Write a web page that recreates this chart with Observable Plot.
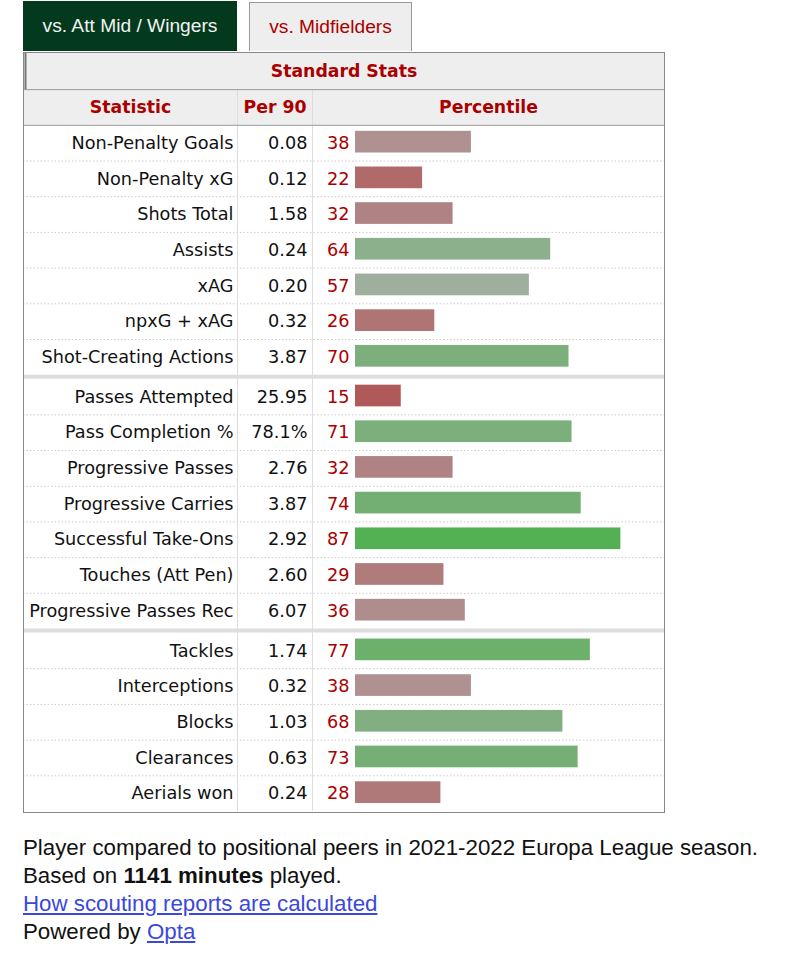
<!DOCTYPE html>
<html>
<head>
<meta charset="utf-8">
<script src="https://cdn.jsdelivr.net/npm/d3@7"></script>
<script src="https://cdn.jsdelivr.net/npm/@observablehq/plot@0.6"></script>
<style>
  html, body { margin: 0; padding: 0; background: #fff; }
  body { width: 806px; position: relative; font-family: "Liberation Sans", Arial, sans-serif; }
  .tabs { position: relative; height: 51px; }
  .tab { position: absolute; box-sizing: border-box; display: flex; align-items: center; justify-content: center; font-size: 19.2px; }
  .tab.active { left: 23px; top: 1px; width: 214px; height: 50px; background: #033a1e; color: #f2f2f2; }
  .tab.other { left: 249px; top: 2px; width: 163px; height: 49px; background: #eeeeee; color: #a00; border: 1px solid #999; border-bottom: none; }
  #chart svg { display: block; }
  .footer { margin: 21px 0 0 23px; font-size: 22.3px; line-height: 28px; color: #111; }
  .footer a { color: #3a48dc; text-decoration: underline; }
</style>
</head>
<body>
<div class="tabs">
  <div class="tab active">vs. Att Mid / Wingers</div>
  <div class="tab other">vs. Midfielders</div>
</div>
<div id="chart"></div>
<div class="footer">
  <div>Player compared to positional peers in 2021-2022 Europa League season.</div>
  <div>Based on <b>1141 minutes</b> played.</div>
  <div><a href="#">How scouting reports are calculated</a></div>
  <div>Powered by <a href="#">Opta</a></div>
</div>
<script>
const caption = "Standard Stats";
const headers = ["Statistic", "Per 90", "Percentile"];
const stats = ["Non-Penalty Goals", "Non-Penalty xG", "Shots Total", "Assists", "xAG", "npxG + xAG", "Shot-Creating Actions",
  "Passes Attempted", "Pass Completion %", "Progressive Passes", "Progressive Carries", "Successful Take-Ons", "Touches (Att Pen)", "Progressive Passes Rec",
  "Tackles", "Interceptions", "Blocks", "Clearances", "Aerials won"];
const per90 = ["0.08", "0.12", "1.58", "0.24", "0.20", "0.32", "3.87",
  "25.95", "78.1%", "2.76", "3.87", "2.92", "2.60", "6.07",
  "1.74", "0.32", "1.03", "0.63", "0.24"];
const percentile = [38, 22, 32, 64, 57, 26, 70,
  15, 71, 32, 74, 87, 29, 36,
  77, 38, 68, 73, 28];
const groups = [0, 0, 0, 0, 0, 0, 0,
  1, 1, 1, 1, 1, 1, 1,
  2, 2, 2, 2, 2];

const GAP = 0.112; // group separator thickness, in row units
const rows = stats.map((s, i) => {
  const top = i + groups[i] * GAP;
  return {stat: s, per90: per90[i], pct: percentile[i], group: groups[i], top, bottom: top + 1, mid: top + 0.5,
          lastInGroup: i === stats.length - 1 || groups[i + 1] !== groups[i]};
});
const nGroups = d3.max(groups) + 1;
const total = stats.length + (nGroups - 1) * GAP;
const seps = d3.range(1, nGroups).map(g => {
  const firstIdx = groups.indexOf(g);
  return {y1: rows[firstIdx].top - GAP, y2: rows[firstIdx].top};
});
const dotted = rows.filter(r => !r.lastInGroup);

const RED = "#a00";
const BODY = 17.7, HEAD = 17.3;
const chart = Plot.plot({
  width: 806,
  height: 762,
  marginLeft: 23,
  marginRight: 142,
  marginTop: 1,
  marginBottom: 1,
  x: {domain: [0, 100], range: [355, 660], axis: null},
  y: {domain: [-2.04, total], range: [1, 760], axis: null},
  color: {type: "linear", domain: [0, 50, 100], range: ["rgb(176,52,52)", "rgb(175,175,175)", "rgb(50,176,50)"], interpolate: "rgb"},
  style: {fontFamily: "DejaVu Sans, Verdana, sans-serif", fontSize: BODY + "px", background: "#fff", overflow: "visible"},
  marks: [
    // caption + header backgrounds
    Plot.rect([{y1: -2.04, y2: -1}, {y1: -1, y2: 0}], {y1: "y1", y2: "y2", fill: "#eeeeee"}),
    // dotted row separators
    Plot.ruleY(dotted, {y: "bottom", stroke: "#cccccc", strokeDasharray: "1.5,2"}),
    // column dividers
    Plot.ruleX([0], {x: 0, y1: -1, y2: total, dx: -118, stroke: "#dddddd"}),
    Plot.ruleX([0], {x: 0, y1: -1, y2: total, dx: -43, stroke: "#dddddd"}),
    // group separators
    Plot.rect(seps, {y1: "y1", y2: "y2", fill: "#dddddd"}),
    // header lines
    Plot.ruleY([-1, 0], {stroke: "#999999"}),
    // caption left accent
    Plot.ruleX([0], {x: 0, y1: -2.04, y2: -1, dx: -330, stroke: "#777777", strokeWidth: 2}),
    // bars
    Plot.rect(rows, {x1: 0, x2: "pct", y1: "top", y2: "bottom", insetTop: 6, insetBottom: 8, fill: "pct"}),
    // texts
    Plot.text(rows, {x: 0, y: "mid", text: "stat", dx: -122, textAnchor: "end", fill: "#111"}),
    Plot.text(rows, {x: 0, y: "mid", text: "per90", dx: -48, textAnchor: "end", fill: "#111"}),
    Plot.text(rows, {x: 0, y: "mid", text: d => String(d.pct), dx: -6, textAnchor: "end", fill: RED}),
    // header labels
    Plot.text([caption], {y: -1.52, text: d => d, fill: RED, fontWeight: "bold", fontSize: HEAD}),
    Plot.text([headers[0]], {x: 0, y: -0.5, text: d => d, dx: -225, fill: RED, fontWeight: "bold", fontSize: HEAD}),
    Plot.text([headers[1]], {x: 0, y: -0.5, text: d => d, dx: -80.5, fill: RED, fontWeight: "bold", fontSize: HEAD}),
    Plot.text([headers[2]], {x: 0, y: -0.5, text: d => d, dx: 133, fill: RED, fontWeight: "bold", fontSize: HEAD}),
    // outer border
    Plot.frame({stroke: "#888888"})
  ]
});
document.getElementById("chart").appendChild(chart);
</script>
</body>
</html>
